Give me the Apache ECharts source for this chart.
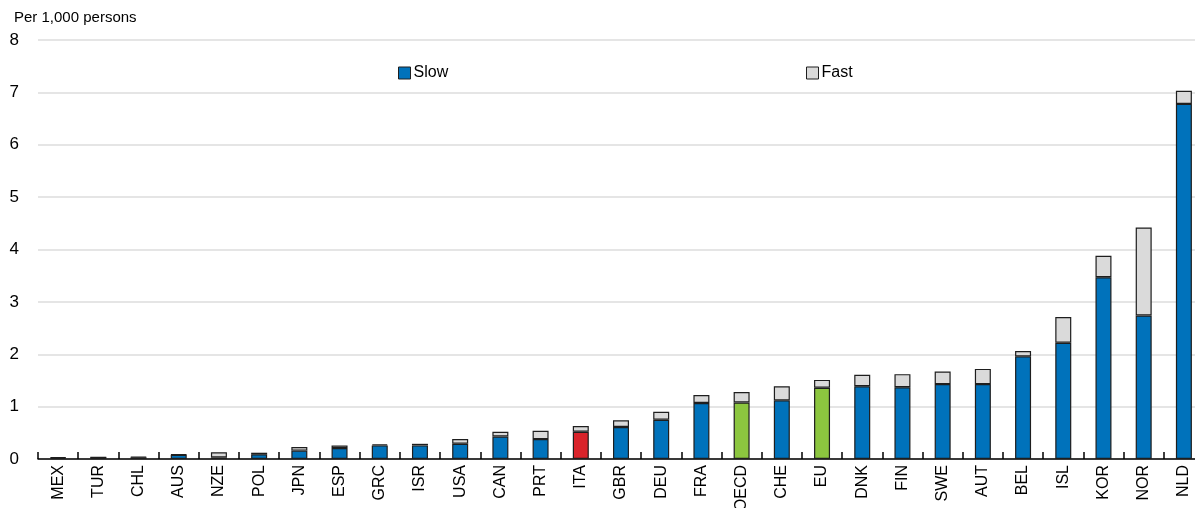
<!DOCTYPE html>
<html>
<head>
<meta charset="utf-8">
<script src="https://cdn.jsdelivr.net/npm/echarts@6/dist/echarts.min.js"></script>
<style>
html,body{margin:0;padding:0;background:#fff;}
#chart{width:1195px;height:508px;}
</style>
</head>
<body>
<div id="chart"></div>
<script>
// ---- data ----
const categories = ["MEX","TUR","CHL","AUS","NZE","POL","JPN","ESP","GRC","ISR","USA","CAN","PRT","ITA","GBR","DEU","FRA","OECD","CHE","EU","DNK","FIN","SWE","AUT","BEL","ISL","KOR","NOR","NLD"];
const slowValues = [0.02,0.03,0.03,0.08,0.03,0.09,0.16,0.21,0.26,0.26,0.29,0.43,0.38,0.52,0.61,0.75,1.07,1.08,1.12,1.36,1.39,1.37,1.43,1.43,1.96,2.22,3.47,2.74,6.78];
const fastValues = [0.01,0.00,0.01,0.01,0.10,0.03,0.07,0.05,0.02,0.03,0.09,0.09,0.16,0.11,0.13,0.15,0.15,0.20,0.27,0.15,0.22,0.25,0.24,0.29,0.10,0.49,0.41,1.68,0.25];
const yTicks = [0,1,2,3,4,5,6,7,8];
const seriesNames = ["Slow","Fast"];
const unitLabel = "Per 1,000 persons";

// ---- styles ----
const FONT = '"Liberation Sans",Arial,sans-serif';
const BLUE = '#0072bb', GREY = '#dadada', RED = '#d9232a', GREEN = '#8cc63f', EDGE = '#1e1e1e';
const highlight = {ITA: RED, OECD: GREEN, EU: GREEN};

const chart = echarts.init(document.getElementById('chart'), null, {renderer: 'canvas'});
const slowData = slowValues.map((v, i) => highlight[categories[i]]
  ? {value: v, itemStyle: {color: highlight[categories[i]]}} : v);

const legendCommon = {icon: 'rect', itemWidth: 12, itemHeight: 12, itemGap: 0, top: 60,
  textStyle: {fontFamily: FONT, fontSize: 16, color: '#000', padding: [0,0,0,-2]},
  itemStyle: {borderColor: EDGE, borderWidth: 1}};

chart.setOption({
  animation: false,
  backgroundColor: '#fff',
  textStyle: {fontFamily: FONT},
  title: {
    text: unitLabel, left: 9, top: 5,
    textStyle: {fontFamily: FONT, fontSize: 15, fontWeight: 'normal', color: '#000'}
  },
  legend: [
    Object.assign({data: [seriesNames[0]], left: 393}, legendCommon),
    Object.assign({data: [seriesNames[1]], left: 801}, legendCommon)
  ],
  grid: {left: 38, top: 40, width: 1166, height: 419, outerBoundsMode: 'none', containLabel: false},
  xAxis: {
    type: 'category', data: categories,
    axisLine: {lineStyle: {color: '#000', width: 1.5}},
    axisTick: {show: true, inside: true, length: 7, lineStyle: {color: '#000', width: 1.5}},
    axisLabel: {rotate: 90, interval: 0, margin: 6, fontFamily: FONT, fontSize: 16, color: '#000', hideOverlap: false},
    splitLine: {show: false}
  },
  yAxis: {
    type: 'value', min: yTicks[0], max: yTicks[yTicks.length-1], interval: 1,
    axisLine: {show: false}, axisTick: {show: false},
    axisLabel: {margin: 19, fontFamily: FONT, fontSize: 17, color: '#000'},
    splitLine: {lineStyle: {color: '#dcdcdc', width: 1.5}}
  },
  series: [
    {name: seriesNames[0], type: 'bar', stack: 'total', data: slowData, barWidth: 16,
     itemStyle: {color: BLUE, borderColor: EDGE, borderWidth: 1.2}},
    {name: seriesNames[1], type: 'bar', stack: 'total', data: fastValues, barWidth: 16,
     itemStyle: {color: GREY, borderColor: EDGE, borderWidth: 1.2}}
  ]
});
</script>
</body>
</html>
